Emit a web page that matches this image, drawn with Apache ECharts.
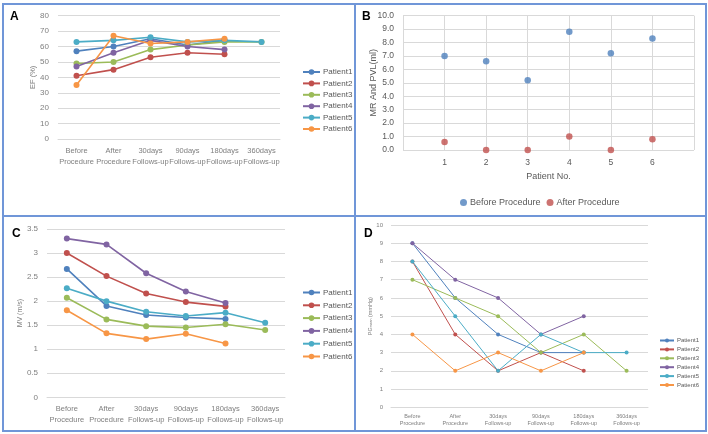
<!DOCTYPE html>
<html><head><meta charset="utf-8">
<script src="https://cdn.jsdelivr.net/npm/echarts@6/dist/echarts.min.js"></script>
<style>
html,body{margin:0;padding:0;background:#fff;width:708px;height:434px;overflow:hidden;}
.p{position:absolute;}
#frame{position:absolute;left:2px;top:3px;width:701px;height:425px;border:2px solid #7096d8;box-sizing:content-box;pointer-events:none;}
#vline{position:absolute;left:354px;top:3px;width:2px;height:428px;background:#7096d8;}
#hline{position:absolute;left:2px;top:215px;width:704px;height:2px;background:#7096d8;}
</style></head>
<body>
<div id="A" class="p" style="left:0;top:0;width:355px;height:216px"></div>
<div id="B" class="p" style="left:355px;top:0;width:353px;height:216px"></div>
<div id="C" class="p" style="left:0;top:216px;width:355px;height:218px"></div>
<div id="D" class="p" style="left:355px;top:216px;width:353px;height:218px"></div>
<div id="frame"></div><div id="vline"></div><div id="hline"></div>
<script>
// ---------- data ----------
const categories = ['Before\nProcedure','After\nProcedure','30days\nFollows-up','90days\nFollows-up','180days\nFollows-up','360days\nFollows-up'];
const patients = ['Patient1','Patient2','Patient3','Patient4','Patient5','Patient6'];
// A: EF (%)
const efValues = [
  [57, 60, 65, 61, 64],
  [41, 45, 53, 56, 55],
  [49, 50, 58, 61, 63, 63],
  [47, 56, 64, 60, 58],
  [63, 64, 66, 63, 64, 63],
  [35, 67, 62, 63, 65]
];
// B: MR and PVL (ml)
const patientNo = [1, 2, 3, 4, 5, 6];
const mrBefore = [7.0, 6.6, 5.2, 8.8, 7.2, 8.3];
const mrAfter = [0.6, 0.0, 0.0, 1.0, 0.0, 0.8];
const bLegend = ['Before Procedure', 'After Procedure'];
// C: MV (m/s)
const mvValues = [
  [2.67, 1.90, 1.71, 1.66, 1.63],
  [3.00, 2.52, 2.16, 1.98, 1.89],
  [2.07, 1.62, 1.48, 1.45, 1.52, 1.40],
  [3.30, 3.18, 2.58, 2.20, 1.96],
  [2.27, 2.00, 1.78, 1.69, 1.76, 1.55],
  [1.81, 1.33, 1.21, 1.32, 1.12]
];
// D: PG mean (mmHg)
const pgValues = [
  [9, 6, 4, 3, 3],
  [8, 4, 2, 3, 2],
  [7, 6, 5, 3, 4, 2],
  [9, 7, 6, 4, 5],
  [8, 5, 2, 4, 3, 3],
  [4, 2, 3, 2, 3]
];
const colors = ['#4F81BD','#C0504D','#9BBB59','#8064A2','#4BACC6','#F79646'];
const FONT = 'Liberation Sans';
const GRID = '#d9d9d9';

function panelLabel(t, left, top){
  return {text:t, left:left, top:top, textStyle:{fontFamily:'Liberation Sans',fontWeight:'bold',fontSize:12,color:'#000'}};
}

function lineChart(id, cfg){
  const ch = echarts.init(document.getElementById(id), null, {renderer:'canvas'});
  ch.setOption({
    animation:false,
    color:colors,
    title:panelLabel(cfg.label, cfg.labelX, cfg.labelY),
    grid:cfg.grid,
    legend:Object.assign({orient:'vertical', data:patients,
      textStyle:{fontFamily:FONT,fontSize:cfg.legFont,color:'#595959',padding:[0,0,0,-2]}}, cfg.legend),
    xAxis:{type:'category', data:categories, boundaryGap:true,
      axisLine:{show:true,lineStyle:{color:GRID}}, axisTick:{show:false},
      axisLabel:{interval:0,fontFamily:FONT,fontSize:cfg.xFont,color:'#7f7f7f',lineHeight:cfg.xLH,margin:cfg.xMargin}},
    yAxis:{type:'value', min:0, max:cfg.ymax, interval:cfg.yint,
      name:cfg.yname, nameLocation:'middle', nameGap:cfg.nameGap, nameMoveOverlap:false,
      nameTextStyle:Object.assign({fontFamily:FONT,fontSize:cfg.nameFont,color:'#7f7f7f'}, cfg.nameRich||{}),
      axisLine:{show:false}, axisTick:{show:false},
      splitLine:{lineStyle:{color:GRID,width:1}},
      axisLabel:{fontFamily:FONT,fontSize:cfg.yFont,color:'#7f7f7f',margin:cfg.yMargin}},
    series:cfg.values.map((v,i)=>({name:patients[i], type:'line', data:v,
      symbol:'circle', symbolSize:cfg.sym, lineStyle:{width:cfg.lw}, itemStyle:{color:colors[i]}}))
  });
}

lineChart('A', {label:'A', labelX:5, labelY:6,
  grid:{left:58, top:15.7, width:222, height:123.3},
  legend:{left:297, top:63, itemWidth:17, itemHeight:7, itemGap:3.4},
  legFont:8, xFont:7.5, xLH:11, xMargin:6.5, yFont:8, yMargin:9,
  ymax:80, yint:10, yname:'EF (%)', nameGap:21, nameFont:7.5,
  values:efValues, sym:6, lw:1.6});

lineChart('C', {label:'C', labelX:7, labelY:7,
  grid:{left:47, top:13, width:238, height:168.3},
  legend:{left:297, top:67.5, itemWidth:17, itemHeight:7, itemGap:4.8},
  legFont:8, xFont:7.5, xLH:11, xMargin:6, yFont:8, yMargin:9,
  ymax:3.5, yint:0.5, yname:'MV (m/s)', nameGap:23.5, nameFont:7,
  values:mvValues, sym:6, lw:1.6});

lineChart('D', {label:'D', labelX:4, labelY:7,
  grid:{left:36, top:9, width:257, height:182.3},
  legend:{left:299, top:116.5, itemWidth:14, itemHeight:5, itemGap:2.9},
  legFont:6, xFont:5.5, xLH:7.5, xMargin:5, yFont:6, yMargin:8,
  ymax:10, yint:1, yname:'PG{s|mean} (mmHg)', nameGap:17.5, nameFont:5.5,
  nameRich:{rich:{s:{fontSize:3.5,fontFamily:FONT,color:'#7f7f7f',verticalAlign:'bottom',padding:[3,0,0,0]}}},
  values:pgValues, sym:4, lw:1});

// Panel B
(function(){
  const ch = echarts.init(document.getElementById('B'));
  ch.setOption({
    animation:false,
    title:panelLabel('B', 2, 6),
    grid:{left:48, top:15.7, width:291, height:134.3},
    legend:{left:100, top:193, icon:'circle', itemWidth:7, itemHeight:7, itemGap:6, data:bLegend,
      textStyle:{fontFamily:FONT,fontSize:9,color:'#595959',padding:[0,0,0,-2]}},
    xAxis:{type:'value', min:0, max:7, interval:1,
      name:'Patient No.', nameLocation:'middle', nameGap:22, nameMoveOverlap:false,
      nameTextStyle:{fontFamily:FONT,fontSize:9,color:'#595959'},
      axisLine:{show:false}, axisTick:{show:false},
      splitLine:{show:true,lineStyle:{color:GRID}},
      axisLabel:{fontFamily:FONT,fontSize:8.5,color:'#595959',margin:8,
        formatter:v=>(v>=1&&v<=6)?String(v):''}},
    yAxis:{type:'value', min:0, max:10, interval:1,
      name:'MR And PVL(ml)', nameLocation:'middle', nameGap:24.5, nameMoveOverlap:false,
      nameTextStyle:{fontFamily:FONT,fontSize:9,color:'#595959'},
      axisLine:{show:false}, axisTick:{show:false},
      splitLine:{lineStyle:{color:GRID}},
      axisLabel:{fontFamily:FONT,fontSize:8.5,color:'#595959',margin:9,formatter:v=>v.toFixed(1)}},
    series:[
      {name:bLegend[0], type:'scatter', symbolSize:6.5, itemStyle:{color:'#4F81BD'},
        data:patientNo.map((p,i)=>[p, mrBefore[i]])},
      {name:bLegend[1], type:'scatter', symbolSize:6.5, itemStyle:{color:'#C0504D'},
        data:patientNo.map((p,i)=>[p, mrAfter[i]])}
    ]
  });
})();
</script>
</body></html>
